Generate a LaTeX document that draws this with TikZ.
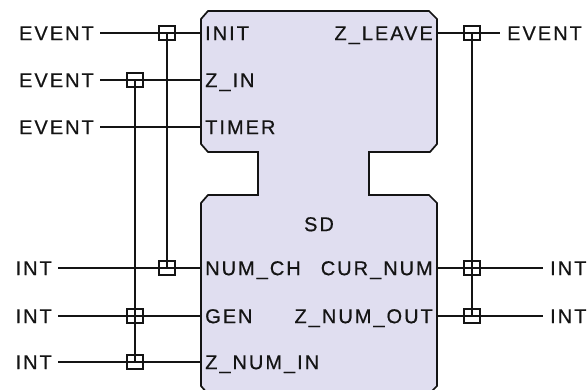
\documentclass[tikz,border=0pt]{standalone}
\usepackage{fontspec}
\newfontfamily\fbfont[LetterSpace=10,FakeBold=0.6]{Liberation Sans}
\usetikzlibrary{positioning}
\definecolor{fbfill}{RGB}{224,222,240}
\definecolor{ink}{RGB}{20,20,20}
\tikzset{
  wire/.style={draw=ink,line width=1.4},
  fbbody/.style={fill=fbfill,draw=ink,line width=1.7},
  lbl/.style={font=\fbfont\fontsize{20}{24}\selectfont,text=ink,
    text height=14.3,text depth=0,inner ysep=0},
  intype/.style={lbl,anchor=east,inner xsep=6},
  outtype/.style={lbl,anchor=west,inner xsep=7},
  inport/.style={lbl,anchor=west,inner xsep=4},
  outport/.style={lbl,anchor=east,inner xsep=4},
  assoc/.style={draw=ink,line width=1.6,minimum width=16,minimum height=14,inner sep=0},
}
\begin{document}
\begin{tikzpicture}[x=1pt,y=-1pt]
  \useasboundingbox (0,0) rectangle (587,390);
  \clip (0,0) rectangle (587,390);
  % function block body
  \filldraw[fbbody] (208,11) -- (429,11) -- (437,19) -- (437,144) -- (430,152)
    -- (369,152) -- (369,195) -- (429,195) -- (437,203) -- (437,386) -- (429,394)
    -- (208,394) -- (201,386) -- (201,203) -- (208,195) -- (258,195) -- (258,152)
    -- (208,152) -- (201,144) -- (201,19) -- cycle;
  \node[lbl] (sd) at (319,224) {SD};
  % inputs
  \foreach \n/\l/\t/\y/\x in {INIT/INIT/EVENT/33/100, ZIN/Z\_IN/EVENT/80/100,
      TIMER/TIMER/EVENT/127/100, NUMCH/NUM\_CH/INT/268/58,
      GEN/GEN/INT/316/58, ZNUMIN/Z\_NUM\_IN/INT/362/58}{
    \node[inport] (\n) at (201,\y) {\l};
    \node[intype] (t\n) at (\x,\y) {\t};
    \draw[wire] (t\n.east) -- (\n.west);
  }
  % outputs
  \foreach \n/\l/\t/\y/\x in {ZLEAVE/Z\_LEAVE/EVENT/33/500,
      CURNUM/CUR\_NUM/INT/268/543, ZNUMOUT/Z\_NUM\_OUT/INT/316/543}{
    \node[outport] (\n) at (437,\y) {\l};
    \node[outtype] (t\n) at (\x,\y) {\t};
    \draw[wire] (\n.east) -- (t\n.west);
  }
  % WITH associations
  \node[assoc] (wINIT) at (167,33) {};
  \node[assoc] (wNUMCH) at (167,268) {};
  \node[assoc] (wZIN) at (135,80) {};
  \node[assoc] (wGEN) at (135,316) {};
  \node[assoc] (wZNUMIN) at (135,362) {};
  \node[assoc] (wZLEAVE) at (472,33) {};
  \node[assoc] (wCURNUM) at (472,268) {};
  \node[assoc] (wZNUMOUT) at (472,316) {};
  \draw[wire] (wINIT.center) -- (wNUMCH.center);
  \draw[wire] (wZIN.center) -- (wZNUMIN.center);
  \draw[wire] (wZLEAVE.center) -- (wZNUMOUT.center);
\end{tikzpicture}
\end{document}
